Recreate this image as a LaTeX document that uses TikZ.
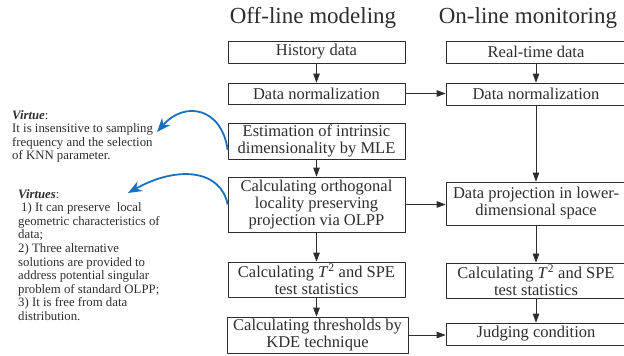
\documentclass[tikz,border=0pt]{standalone}
\usepackage{fontspec}
\setmainfont{Liberation Serif}
\usetikzlibrary{arrows.meta}
\definecolor{inkgray}{RGB}{45,45,45}
\definecolor{virtueblue}{RGB}{24,112,192}
\tikzset{
 stepbox/.style={draw=inkgray, line width=0.7pt, rectangle, align=center, inner sep=2pt,
  font=\fontsize{16.5}{17}\selectfont, text=inkgray},
 leftbox/.style={stepbox, minimum width=177pt},
 rightbox/.style={stepbox, minimum width=180pt},
 note/.style={anchor=north west, align=left, inner sep=0pt, text=inkgray,
  font=\fontsize{12.8}{13.6}\selectfont},
 flow/.style={draw=inkgray, line width=0.7pt, -{Triangle[length=9pt,width=6.5pt]}},
 virtuearrow/.style={draw=virtueblue, line width=1.8pt, -{Stealth[length=14pt,width=11pt]}}
}
\begin{document}
\begin{tikzpicture}[x=1pt, y=-1pt, line join=round]
 \useasboundingbox (0,0) rectangle (624,356);
 % column titles
 \node[font=\fontsize{23}{25}\selectfont, text=inkgray] (offtitle) at (313,18) {Off-line modeling};
 \node[font=\fontsize{23}{25}\selectfont, text=inkgray] (ontitle) at (528,18) {On-line monitoring};
 % off-line modeling
 \node[leftbox, minimum height=22pt] (hist) at (316.5,52) {History data};
 \node[leftbox, minimum height=21pt] (normL) at (316.5,93.5) {Data normalization};
 \node[leftbox, minimum height=36pt] (mle) at (316.5,141) {Estimation of intrinsic\\dimensionality by MLE};
 \node[leftbox, minimum height=55pt] (olpp) at (316.5,204.5) {Calculating orthogonal\\locality preserving\\projection via OLPP};
 \node[leftbox, minimum height=35pt] (tsL) at (316.5,279.5) {Calculating \textit{T}\textsuperscript{2} and SPE\\test statistics};
 \node[leftbox, minimum width=181pt, minimum height=34pt] (kde) at (317.5,335) {Calculating thresholds by\\KDE technique};
 % on-line monitoring
 \node[rightbox, minimum height=22pt] (rt) at (536,52) {Real-time data};
 \node[rightbox, minimum height=22pt] (normR) at (536,94) {Data normalization};
 \node[rightbox, minimum height=43pt] (proj) at (536,203.5) {Data projection in lower-\\dimensional space};
 \node[rightbox, minimum height=35pt] (tsR) at (536,280.5) {Calculating \textit{T}\textsuperscript{2} and SPE\\test statistics};
 \node[rightbox, minimum height=22pt] (judge) at (536,334) {Judging condition};
 % connectors
 \draw[flow] (hist) -- (normL);
 \draw[flow] (mle) -- (olpp);
 \draw[flow, line width=1.3pt] (olpp) -- (tsL);
 \draw[flow] (tsL.south) -- (tsL.south |- kde.north);
 \draw[flow] (rt) -- (normR);
 \draw[flow] (normR) -- (proj);
 \draw[flow] (proj) -- (tsR);
 \draw[flow] (tsR) -- (judge);
 \draw[flow] (normL.east) -- (normL.east -| normR.west);
 \draw[flow] (olpp.east) -- (olpp.east -| proj.west);
 \draw[flow] (kde.east) -- (kde.east -| judge.west);
 % virtues
 \node[note] (virtue) at (12,110) {\textbf{\textit{Virtue}}:\\It is insensitive to sampling\\frequency and the selection\\of KNN parameter.};
 \node[note] (virtues) at (18,189) {\textbf{\textit{Virtues}}:\\\hspace*{3pt}1) It can preserve\ \ local\\geometric characteristics of\\data;\\2) Three alternative\\solutions are provided to\\address potential singular\\problem of standard OLPP;\\3) It is free from data\\distribution.};
 \coordinate (virtuetip) at (157,132);
 \coordinate (virtuestip) at (128,193);
 \draw[virtuearrow] ([yshift=-9pt]mle.west) .. controls (222,108) and (185,100) .. (virtuetip);
 \draw[virtuearrow] (olpp.west) .. controls (221,170) and (178,165) .. (virtuestip);
\end{tikzpicture}
\end{document}
